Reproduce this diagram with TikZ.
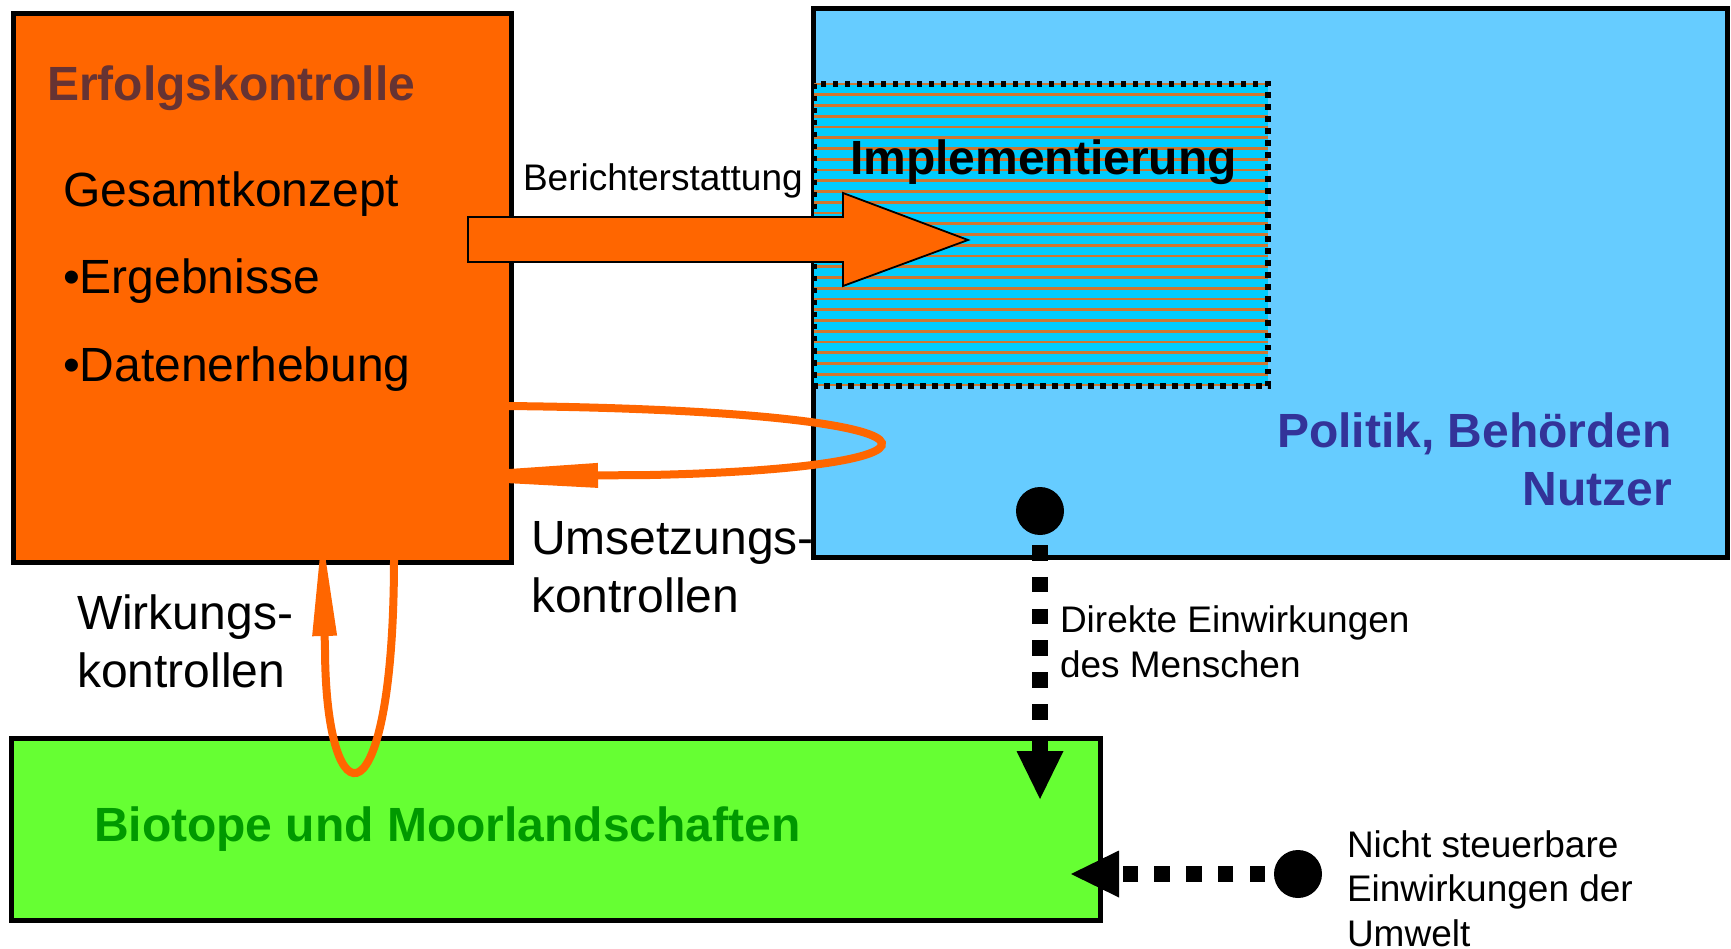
\documentclass[tikz,border=0pt]{standalone}
\usepackage{fontspec}
\setmainfont{Liberation Sans}
\usetikzlibrary{arrows.meta}
\definecolor{orng}{HTML}{FF6600}
\definecolor{skyb}{HTML}{66CCFF}
\definecolor{cyanb}{HTML}{00CCFF}
\definecolor{hatchc}{HTML}{CC7733}
\definecolor{lgreen}{HTML}{66FF33}
\definecolor{dgreen}{HTML}{009900}
\definecolor{brownt}{HTML}{663333}
\definecolor{navyt}{HTML}{333399}
\tikzset{
  box/.style={draw=black, line width=5pt, inner sep=0pt, outer sep=0pt},
  hatchline/.style={draw=hatchc, line width=2.7pt},
  dotnode/.style={circle, fill=black, inner sep=0pt, outer sep=0pt, minimum size=48pt},
  dotc/.style={line width=16pt, dash pattern=on 15.5pt off 16.3pt,
    -{Triangle[length=48pt,width=47pt,line width=0pt]}},
  loopc/.style={draw=orng, line width=8pt},
  txt/.style={inner sep=0pt, outer sep=0pt, anchor=base west, align=left},
  big/.style={font=\fontsize{48}{58}\selectfont},
  small/.style={font=\fontsize{37}{44.5}\selectfont},
}
\begin{document}
\begin{tikzpicture}[x=1pt,y=-1pt]
\useasboundingbox[fill=white] (0,0) rectangle (1731,949);
% blue box
\node[box, fill=skyb, minimum width=913.5pt, minimum height=548.5pt] (pol) at (1270.25,282.75) {};
% hatched implementation area
\node[fill=cyanb, inner sep=0pt, outer sep=0pt, minimum width=454pt, minimum height=302pt] (impl) at (1041,235) {};
\begin{scope}
  \clip (impl.north west) rectangle (impl.south east);
  \foreach \i in {0,...,28} \draw[hatchline] (814,{84+10.75*\i}) -- (1268,{84+10.75*\i});
\end{scope}
\draw[line width=5.5pt, dash pattern=on 5.5pt off 6.5pt] (impl.north west) rectangle (impl.south east);
% orange box
\node[box, fill=orng, minimum width=498pt, minimum height=549pt] (ek) at (262.5,288) {};
% green box
\node[box, fill=lgreen, minimum width=1089pt, minimum height=182.5pt] (bio) at (556,829.25) {};
% big arrow (Berichterstattung)
\draw[fill=orng, draw=black, line width=1.8pt, line join=miter]
  (468,217) -- (843,217) -- (843,193) -- (968,240) -- (843,286) -- (843,262) -- (468,262) -- cycle;
% texts (multi-line nodes are anchored at the baseline of their last line)
\node[txt, big, font=\fontsize{48}{58}\bfseries, text=brownt] (t-ek) at (47,101) {Erfolgskontrolle};
\node[txt, big] (t-ges) at (63,207) {Gesamtkonzept};
\node[txt, big] (t-erg) at (63,294) {•Ergebnisse};
\node[txt, big] (t-dat) at (63,381) {•Datenerhebung};
\node[txt, small] (t-ber) at (523,191) {Berichterstattung};
\node[txt, big, font=\fontsize{48}{58}\bfseries] (t-impl) at (850,175) {Implementierung};
\node[txt, big, font=\fontsize{48}{58}\bfseries, text=navyt, anchor=base east, align=right] (t-pol) at (1672,505) {Politik, Behörden\\Nutzer};
\node[txt, big] (t-ums) at (531,612) {Umsetzungs-\\kontrollen};
\node[txt, big] (t-wir) at (77,687) {Wirkungs-\\kontrollen};
\node[txt, small] (t-dir) at (1060,677) {Direkte Einwirkungen\\des Menschen};
\node[txt, small] (t-nic) at (1347,946) {Nicht steuerbare\\Einwirkungen der\\Umwelt};
\node[txt, big, font=\fontsize{48}{58}\bfseries, text=dgreen] (t-bio) at (94,841) {Biotope und Moorlandschaften};
% dots
\node[dotnode] (d1) at (1040,511) {};
\node[dotnode] (d2) at (1298,874) {};
\coordinate (dt1) at (1040,799);
\coordinate (dt2) at (1071,874);
\draw[dotc, dash phase=21.8pt] (d1.south) -- (dt1);
\draw[dotc, dash phase=23pt] (d2.west) -- (dt2);
% Umsetzungskontrollen loop
\coordinate (u1) at (507,406);
\coordinate (u2) at (650,475);
\coordinate (ut) at (393,477);
\draw[loopc, -{Triangle[length=205pt,width=25pt,line width=0pt]}]
  (u1) .. controls (980,411) and (980,468) .. (u2) -- (ut);
% Wirkungskontrollen loop
\coordinate (w1) at (394,559);
\coordinate (w2) at (325,650);
\coordinate (wt) at (322,535);
\draw[loopc, -{Triangle[length=101pt,width=25pt,line width=0pt]}]
  (w1) .. controls (394,827) and (326,827) .. (w2) -- (wt);
\end{tikzpicture}
\end{document}
